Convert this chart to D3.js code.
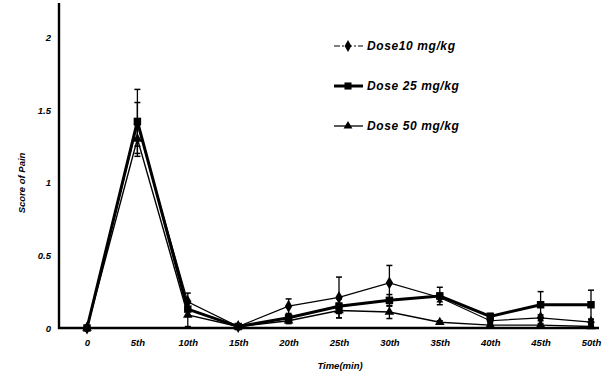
<!DOCTYPE html>
<html>
<head>
<meta charset="utf-8">
<script src="https://cdn.jsdelivr.net/npm/d3@7"></script>
<style>
  body { margin: 0; background: #fff; }
  text { font-family: "Liberation Sans", Arial, sans-serif; font-weight: bold; font-style: italic; fill: #000; }
</style>
</head>
<body>
<div id="chart"></div>
<script>
// time points
var times = ["0", "5th", "10th", "15th", "20th", "25th", "30th", "35th", "40th", "45th", "50th"];
var yTicks = [0, 0.5, 1, 1.5, 2];

// mean pain score per dose
var dose10 = [0, 1.40, 0.18, 0.01, 0.15, 0.21, 0.31, 0.21, 0.05, 0.07, 0.04];
var dose25 = [0, 1.42, 0.13, 0.01, 0.07, 0.15, 0.19, 0.22, 0.08, 0.16, 0.16];
var dose50 = [0, 1.30, 0.09, 0.01, 0.05, 0.12, 0.11, 0.04, 0.02, 0.02, 0.01];

// error (SEM)
var err10 = [0, 0.15, 0.06, 0, 0.05, 0.14, 0.12, 0.03, 0.01, 0.02, 0.02];
var err25 = [0, 0.22, 0.05, 0, 0.02, 0.05, 0.04, 0.06, 0.02, 0.09, 0.10];
var err50 = [0, 0.12, 0.08, 0, 0.02, 0.05, 0.045, 0.01, 0.01, 0.01, 0.01];

var seriesNames = ["Dose10 mg/kg", "Dose 25 mg/kg", "Dose 50 mg/kg"];

var series = [
    {name: seriesNames[2], values: dose50, err: err50, sym: d3.symbolTriangle, size: 40, width: 1.4},
    {name: seriesNames[0], values: dose10, err: err10, sym: d3.symbolDiamond, size: 48, width: 1.2},
    {name: seriesNames[1], values: dose25, err: err25, sym: d3.symbolSquare, size: 56, width: 3}
];

var svg = d3.select("#chart")
    .append("svg")
    .attr("width", 613)
    .attr("height", 377);

var x = d3.scalePoint().domain(times).range([87, 591]);
var y = d3.scaleLinear().domain([0, 2.234]).range([328, 3]);

// axes
svg.append("line")
    .attr("x1", 59).attr("x2", 59)
    .attr("y1", y.range()[1]).attr("y2", y(0) + 1)
    .attr("stroke", "#000").attr("stroke-width", 2.4);

svg.append("line")
    .attr("x1", 58).attr("x2", 599)
    .attr("y1", y(0)).attr("y2", y(0))
    .attr("stroke", "#000").attr("stroke-width", 2.4);

var yAxis = svg.append("g")
    .attr("transform", "translate(51,0)")
    .call(d3.axisLeft(y).tickValues(yTicks).tickSize(0).tickPadding(0)
        .tickFormat(function(d) { return String(d); }));
yAxis.select(".domain").remove();
yAxis.selectAll("text").attr("font-size", 9.5).attr("dy", "0.35em")
    .style("font-family", null);

var xAxis = svg.append("g")
    .attr("transform", "translate(0," + (y(0) + 15) + ")")
    .call(d3.axisBottom(x).tickSize(0).tickPadding(0));
xAxis.select(".domain").remove();
xAxis.selectAll("text").attr("font-size", 9.5).attr("dy", "0.35em")
    .style("font-family", null);

svg.append("text")
    .attr("x", 340).attr("y", 369)
    .attr("text-anchor", "middle")
    .attr("font-size", 9.5)
    .text("Time(min)");

svg.append("text")
    .attr("transform", "translate(25,183) rotate(-90)")
    .attr("text-anchor", "middle")
    .attr("font-size", 9.5)
    .text("Score of Pain");

// lines, error bars, markers
var line = d3.line()
    .x(function(d, i) { return x(times[i]); })
    .y(function(d) { return y(d); });

series.forEach(function(s) {
    var g = svg.append("g");

    s.values.forEach(function(v, i) {
        if (s.err[i] <= 0) return;
        var cx = x(times[i]);
        var hi = v + s.err[i];
        var lo = Math.max(0, v - s.err[i]);
        g.append("line")
            .attr("x1", cx).attr("x2", cx)
            .attr("y1", y(hi)).attr("y2", y(lo))
            .attr("stroke", "#000").attr("stroke-width", 1.3);
        [hi, lo].forEach(function(e) {
            g.append("line")
                .attr("x1", cx - 3).attr("x2", cx + 3)
                .attr("y1", y(e)).attr("y2", y(e))
                .attr("stroke", "#000").attr("stroke-width", 1.5);
        });
    });

    g.append("path")
        .datum(s.values)
        .attr("d", line)
        .attr("fill", "none")
        .attr("stroke", "#000")
        .attr("stroke-width", s.width);

    g.selectAll("path.mark")
        .data(s.values)
        .enter()
        .append("path")
        .attr("class", "mark")
        .attr("transform", function(d, i) { return "translate(" + x(times[i]) + "," + y(d) + ")"; })
        .attr("d", d3.symbol().type(s.sym).size(s.size))
        .attr("fill", "#000");
});

// legend
var legend = [
    {name: seriesNames[0], sym: d3.symbolDiamond, size: 40, width: 1.1, dash: "6,2,2,2", y: 46},
    {name: seriesNames[1], sym: d3.symbolSquare, size: 50, width: 3, dash: null, y: 86},
    {name: seriesNames[2], sym: d3.symbolTriangle, size: 34, width: 1.3, dash: null, y: 126}
];

var lg = svg.selectAll("g.legend")
    .data(legend)
    .enter()
    .append("g")
    .attr("class", "legend")
    .attr("transform", function(d) { return "translate(0," + d.y + ")"; });

lg.append("line")
    .attr("x1", 334).attr("x2", 363)
    .attr("y1", 0).attr("y2", 0)
    .attr("stroke", "#000")
    .attr("stroke-width", function(d) { return d.width; })
    .attr("stroke-dasharray", function(d) { return d.dash; });

lg.append("path")
    .attr("transform", "translate(348,0)")
    .attr("d", function(d) { return d3.symbol().type(d.sym).size(d.size)(); })
    .attr("fill", "#000");

lg.append("text")
    .attr("x", 367).attr("y", 0)
    .attr("dy", "0.35em")
    .attr("font-size", 12)
    .attr("letter-spacing", 0.6)
    .text(function(d) { return d.name; });
</script>
</body>
</html>
